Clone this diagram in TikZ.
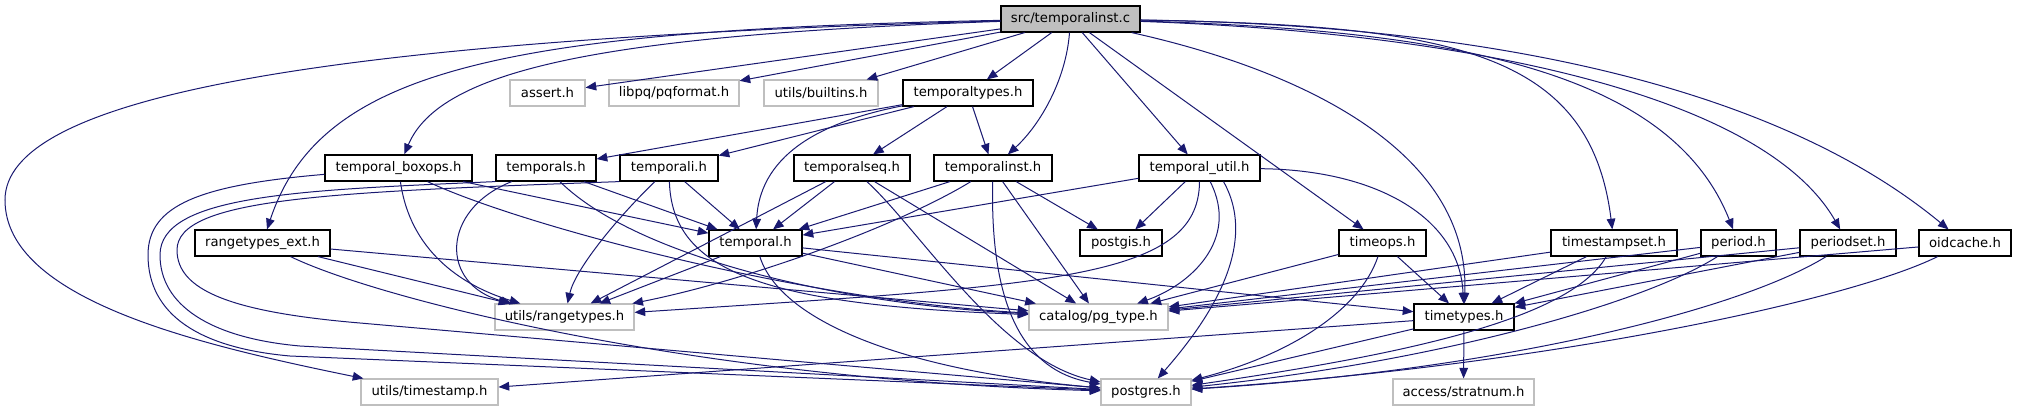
\documentclass[tikz,border=0pt]{standalone}
\usepackage{fontspec}
\setmainfont{DejaVu Sans}
\usepackage{xcolor}
\definecolor{dxblue}{RGB}{25,25,112}
\definecolor{dxgrey}{RGB}{191,191,191}
\usetikzlibrary{arrows.meta}

\begin{document}
\begin{tikzpicture}[x=0.75pt,y=-0.75pt,font=\fontsize{9.9}{12}\selectfont,
  hdr/.style={draw=black,line width=0.9pt,fill=white,minimum height=19.5pt,inner sep=1pt},
  ext/.style={draw=dxgrey,line width=0.8pt,fill=white,minimum height=19.5pt,inner sep=1pt},
  dep/.style={draw=dxblue,line width=0.75pt,-{Triangle[length=8pt,width=6.5pt]}}]
  \useasboundingbox (0,0) rectangle (2017,411);
  \node[hdr,fill=dxgrey,minimum width=139*0.75pt] (src) at (1070.5,19) {src/temporalinst.c};
  \foreach \n/\x/\y/\w/\s/\t in {assert/547.5/93/75/ext/assert.h, pqformat/674/93/130/ext/{libpq/pqformat.h},
      builtins/821/93/114/ext/{utils/builtins.h}, temporaltypes/968/93/130/hdr/temporaltypes.h,
      boxops/398.5/168/147/hdr/temporal\_boxops.h, temporals/546/168/100/hdr/temporals.h,
      temporali/669/168/98/hdr/temporali.h, temporalseq/852/168/116/hdr/temporalseq.h,
      temporalinst/993/168/118/hdr/temporalinst.h, tutil/1199.5/168/121/hdr/temporal\_util.h,
      rangeext/262.5/243/135/hdr/rangetypes\_ext.h, temporal/755.5/243/93/hdr/temporal.h,
      postgis/1121/243/82/hdr/postgis.h, timeops/1382.5/243/87/hdr/timeops.h,
      tsset/1614/243/126/hdr/timestampset.h, period/1738.5/243/75/hdr/period.h,
      periodset/1848/243/96/hdr/periodset.h, oidcache/1965/243/92/hdr/oidcache.h,
      rangetypes/564.5/317/139/ext/{utils/rangetypes.h}, pgtype/1098.5/317/139/ext/{catalog/pg\_type.h},
      timetypes/1464/317/100/hdr/timetypes.h, timestamp/429.5/392/137/ext/{utils/timestamp.h},
      postgres/1146/392/90/ext/postgres.h, stratnum/1463.5/392/141/ext/{access/stratnum.h}}
    \node[\s,minimum width=\w*0.75pt] (\n) at (\x,\y) {\t};

  \foreach \a/\b in {src/assert, src/pqformat, src/builtins, src/temporaltypes, src/tutil, src/timeops,
      temporaltypes/temporals, temporaltypes/temporali, temporaltypes/temporalseq, temporaltypes/temporalinst,
      boxops/temporal, temporals/temporal, temporali/temporal, temporalseq/temporal, temporalinst/temporal, tutil/temporal,
      temporalseq/rangetypes, temporalseq/pgtype, temporalinst/pgtype, temporalinst/postgis, tutil/postgis,
      temporal/rangetypes, temporal/pgtype, temporal/timetypes, rangeext/pgtype, rangeext/rangetypes,
      timeops/pgtype, timeops/timetypes, tsset/pgtype, tsset/timetypes, period/pgtype, period/timetypes,
      periodset/pgtype, periodset/timetypes, oidcache/pgtype,
      timetypes/postgres, timetypes/timestamp, timetypes/stratnum}
    \draw[dep] (\a) -- (\b);

  \draw[dep] (src) .. controls (1066,80) and (1040,125) .. (temporalinst);
  \draw[dep] (src) .. controls (1300,70) and (1470,150) .. (timetypes);
  \draw[dep] (src) .. controls (1450,25) and (1590,50) .. (tsset);
  \draw[dep] (src) .. controls (1450,30) and (1670,70) .. (period);
  \draw[dep] (src) .. controls (1450,32) and (1760,90) .. (periodset);
  \draw[dep] (src) .. controls (1500,25) and (1780,90) .. (oidcache);
  \draw[dep] (src) .. controls (600,35) and (440,70) .. (boxops);
  \draw[dep] (src) .. controls (500,30) and (320,70) .. (rangeext);
  \draw[dep] (src) .. controls (300,40) and (5,100) .. (5,200) .. controls (5,300) and (200,345) .. (timestamp);
  \draw[dep] (temporaltypes) .. controls (830,120) and (760,150) .. (temporal);
  \draw[dep] (boxops) .. controls (410,250) and (460,285) .. (rangetypes);
  \draw[dep] (boxops) .. controls (520,225) and (800,300) .. (pgtype);
  \draw[dep] (boxops) .. controls (200,185) and (148,205) .. (148,255) .. controls (148,315) and (200,348) .. (290,356) -- (postgres);
  \draw[dep] (temporals) .. controls (440,210) and (440,285) .. (rangetypes);
  \draw[dep] (temporals) .. controls (640,260) and (850,305) .. (pgtype);
  \draw[dep] (temporals.south west) .. controls (300,190) and (160,195) .. (160,255) .. controls (160,305) and (210,338) .. (300,346) -- (postgres);
  \draw[dep] (temporali) .. controls (615,220) and (575,270) .. (rangetypes);
  \draw[dep] (temporali) .. controls (672,270) and (760,305) .. (pgtype);
  \draw[dep] (temporali.south west) .. controls (330,192) and (177,198) .. (177,250) .. controls (177,290) and (230,312) .. (360,323) -- (postgres);
  \draw[dep] (temporalseq) .. controls (920,230) and (1000,360) .. (postgres);
  \draw[dep] (temporalinst) .. controls (900,225) and (750,280) .. (rangetypes);
  \draw[dep] (temporalinst) .. controls (990,300) and (1020,370) .. (postgres);
  \draw[dep] (tutil.south) .. controls (1199,280) and (1050,285) .. (rangetypes);
  \draw[dep] ([xshift=8pt]tutil.south) .. controls (1240,240) and (1190,285) .. (pgtype);
  \draw[dep] ([xshift=18pt]tutil.south) .. controls (1262,250) and (1200,330) .. (postgres);
  \draw[dep] (tutil) .. controls (1380,170) and (1460,220) .. (timetypes);
  \draw[dep] (temporal) .. controls (780,320) and (900,370) .. (postgres);
  \draw[dep] (rangeext) .. controls (380,300) and (700,380) .. (postgres);
  \draw[dep] (timeops) .. controls (1360,310) and (1290,355) .. (postgres);
  \draw[dep] (tsset) .. controls (1570,320) and (1400,355) .. (postgres);
  \draw[dep] (period) .. controls (1650,300) and (1450,360) .. (postgres);
  \draw[dep] (periodset) .. controls (1740,310) and (1500,370) .. (postgres);
  \draw[dep] (oidcache) .. controls (1850,300) and (1550,365) .. (postgres);
\end{tikzpicture}
\end{document}
